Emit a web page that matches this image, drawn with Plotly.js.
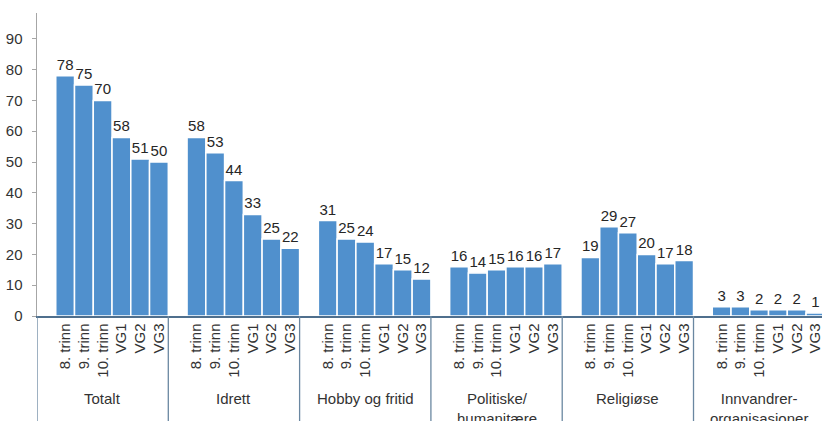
<!DOCTYPE html>
<html>
<head>
<meta charset="utf-8">
<script src="https://cdn.plot.ly/plotly-3.0.1.min.js"></script>
<style>html,body{margin:0;padding:0;background:#fff}#chart{width:822px;height:421px}</style>
</head>
<body>
<div id="chart"></div>
<script>
var groups = ["Totalt", "Idrett", "Hobby og fritid", "Politiske/<br>humanitære", "Religiøse", "Innvandrer-<br>organisasjoner"];
var levels = ["8. trinn", "9. trinn", "10. trinn", "VG1", "VG2", "VG3"];
var totalt = [78, 75, 70, 58, 51, 50];
var idrett = [58, 53, 44, 33, 25, 22];
var hobby = [31, 25, 24, 17, 15, 12];
var politiske = [16, 14, 15, 16, 16, 17];
var religiose = [19, 29, 27, 20, 17, 18];
var innvandrer = [3, 3, 2, 2, 2, 1];
var yTicks = [0, 10, 20, 30, 40, 50, 60, 70, 80, 90];

var series = [totalt, idrett, hobby, politiske, religiose, innvandrer];
var slotsPerGroup = levels.length + 1;
var FONT = '"Liberation Sans", Arial, sans-serif';

var xs = [], ys = [], txt = [], tickvals = [], ticktext = [];
series.forEach(function (vals, g) {
  vals.forEach(function (v, i) {
    var x = g * slotsPerGroup + 1 + i + 0.5;
    xs.push(x); ys.push(v); txt.push(String(v));
    tickvals.push(x); ticktext.push(levels[i]);
  });
});

var shapes = [], annotations = [];
groups.forEach(function (name, g) {
  shapes.push({type: 'line', xref: 'x', yref: 'paper', x0: g * slotsPerGroup, x1: g * slotsPerGroup,
    y0: 0, y1: -0.4, line: {color: '#6a87a1', width: 1.3}});
  annotations.push({xref: 'x', yref: 'paper', x: g * slotsPerGroup + slotsPerGroup / 2, y: -0.238,
    yanchor: 'top', xanchor: 'center', text: name, showarrow: false,
    font: {family: FONT, size: 15, color: '#333'}});
});

var trace = {
  type: 'bar', x: xs, y: ys, text: txt, textposition: 'outside', cliponaxis: false,
  constraintext: 'none', width: 1,
  textfont: {family: FONT, size: 15, color: '#262626'},
  marker: {color: '#5090cd', line: {color: '#ffffff', width: 1.5}},
  hoverinfo: 'none'
};

var layout = {
  width: 822, height: 421,
  margin: {l: 37, r: 0, t: 13, b: 105},
  paper_bgcolor: '#fff', plot_bgcolor: '#fff',
  showlegend: false, bargap: 0,
  font: {family: FONT, size: 15, color: '#333'},
  xaxis: {range: [0, 41.85], tickmode: 'array', tickvals: tickvals, ticktext: ticktext,
    tickangle: -90, ticks: '', showgrid: false, zeroline: false, showline: true,
    linecolor: '#4f6f8d', linewidth: 1.5, tickfont: {family: FONT, size: 15, color: '#333'},
    ticklabeloverflow: 'allow', fixedrange: true},
  yaxis: {range: [0, 98.4], tickmode: 'array', tickvals: yTicks, ticks: 'outside', ticklen: 4,
    tickcolor: '#a6a6a6', showgrid: false, zeroline: false, showline: true, linecolor: '#a6a6a6',
    linewidth: 1.5, tickfont: {family: FONT, size: 15, color: '#333'}, ticklabelstandoff: 6,
    fixedrange: true},
  shapes: shapes, annotations: annotations
};

Plotly.newPlot('chart', [trace], layout, {displayModeBar: false, staticPlot: true});
</script>
</body>
</html>
